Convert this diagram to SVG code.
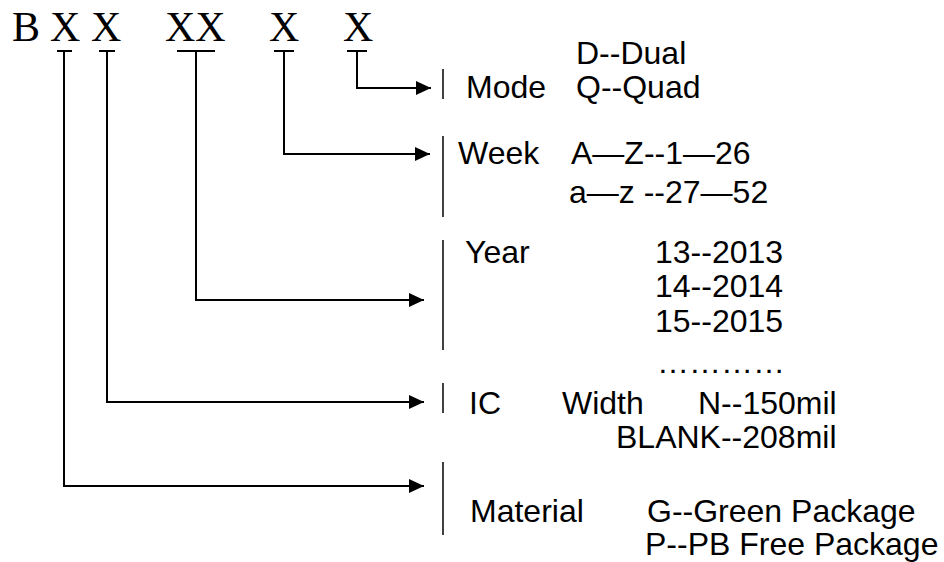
<svg xmlns="http://www.w3.org/2000/svg" width="944" height="562" viewBox="0 0 944 562">
<defs>
<marker id="arr" markerUnits="userSpaceOnUse" markerWidth="16" markerHeight="16" viewBox="0 0 16 16" refX="15" refY="8" orient="auto">
<path d="M0,1 L15,8 L0,15 Z" fill="#000"/>
</marker>
</defs>
<style>
.code{font-family:"Liberation Serif","Times New Roman",serif;font-size:42px;fill:#000}
.t{font-family:"Liberation Sans",Arial,sans-serif;font-size:32px;fill:#000}
.tick{stroke:#000;stroke-width:2;fill:none}
.conn{stroke:#000;stroke-width:2;fill:none}
.sep{stroke:#000;stroke-width:1.5;fill:none}
</style>
<rect width="944" height="562" fill="#fff"/>
<g id="code">
<text class="code" x="12" y="41">B</text>
<text class="code" x="50" y="41">X</text>
<text class="code" x="91" y="41">X</text>
<text class="code" x="165" y="41">XX</text>
<text class="code" x="269" y="41">X</text>
<text class="code" x="343" y="41">X</text>
<path class="tick" d="M57,51 H72 M99,51 H115 M177,51 H215 M274,51 H294 M347,51 H367"/>
</g>
<g id="connectors">
<path class="conn" d="M357,51 V88 H431" marker-end="url(#arr)"/>
<path class="conn" d="M284,51 V154 H430" marker-end="url(#arr)"/>
<path class="conn" d="M196,51 V300 H424" marker-end="url(#arr)"/>
<path class="conn" d="M107,51 V402 H424" marker-end="url(#arr)"/>
<path class="conn" d="M64,51 V486 H424" marker-end="url(#arr)"/>
</g>
<g id="mode">
<path class="sep" d="M443,69 V99"/>
<text class="t" x="576" y="64">D--Dual</text>
<text class="t" x="466" y="98">Mode</text>
<text class="t" x="576" y="98">Q--Quad</text>
</g>
<g id="week">
<path class="sep" d="M443,136 V217"/>
<text class="t" x="458" y="164">Week</text>
<text class="t" x="571" y="164">A—Z--1—26</text>
<text class="t" x="569" y="203">a—z --27—52</text>
</g>
<g id="year">
<path class="sep" d="M443,240 V350"/>
<text class="t" x="465" y="263">Year</text>
<text class="t" x="655" y="263">13--2013</text>
<text class="t" x="655" y="297">14--2014</text>
<text class="t" x="655" y="332">15--2015</text>
<text class="t" x="657" y="373">…………</text>
</g>
<g id="width">
<path class="sep" d="M443,383 V413"/>
<text class="t" x="469" y="414">IC</text>
<text class="t" x="562" y="414">Width</text>
<text class="t" x="698" y="414">N--150mil</text>
<text class="t" x="616" y="448">BLANK--208mil</text>
</g>
<g id="material">
<path class="sep" d="M443,462 V535"/>
<text class="t" x="470" y="522">Material</text>
<text class="t" x="647" y="522">G--Green Package</text>
<text class="t" x="645" y="555">P--PB Free Package</text>
</g>
</svg>
